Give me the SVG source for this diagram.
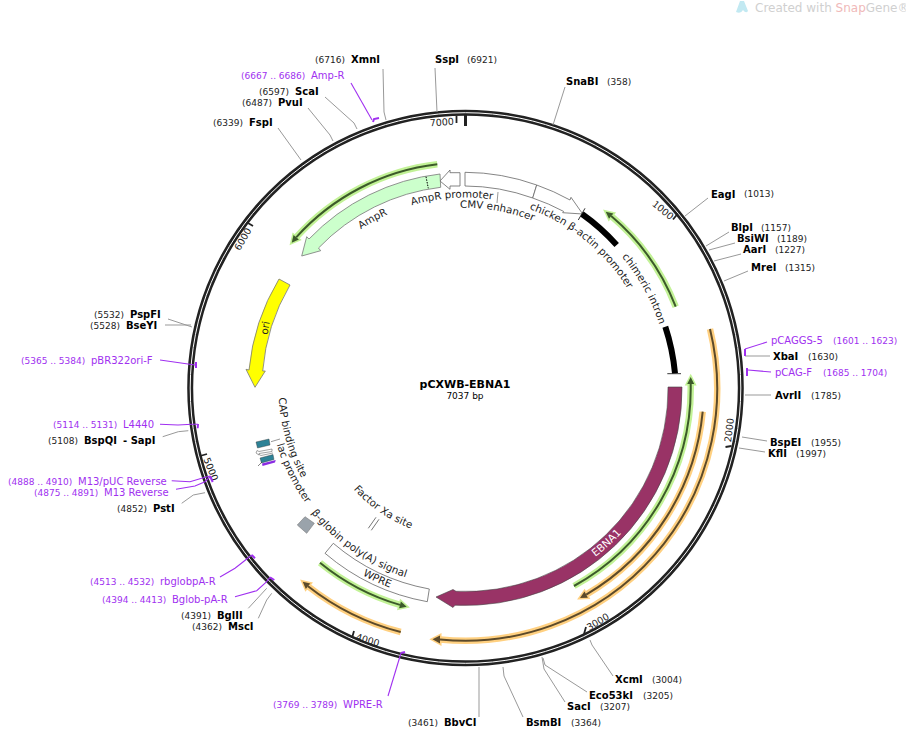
<svg xmlns="http://www.w3.org/2000/svg" width="906" height="729" viewBox="0 0 906 729">
<style>
text{font-family:"DejaVu Sans",sans-serif;fill:#000}
.e{font-size:10px;font-weight:bold}
.n{font-size:9px;fill:#222}
.p{font-size:10px;fill:#a030f0}
.q{font-size:9px;fill:#a030f0}
.a{font-size:10.3px;fill:#222}
.t{font-size:9.5px;fill:#222}
.l{fill:none;stroke:#999;stroke-width:1}
.pl{fill:none;stroke:#a030f0;stroke-width:1.1}
.pk{fill:none;stroke:#a030f0;stroke-width:2}
.ho{fill:none;stroke:#ffd080;stroke-width:6.5}
.hg{fill:none;stroke:#c2f296;stroke-width:6.5}
.dor{fill:none;stroke:#5c4a2a;stroke-width:2}
.dgr{fill:none;stroke:#3c5a2a;stroke-width:2}
.ao{fill:#5c4a2a;stroke:#ffd080;stroke-width:3;paint-order:stroke}
.ag{fill:#3c5a2a;stroke:#c2f296;stroke-width:3;paint-order:stroke}
.o{fill:#fff;stroke:#666;stroke-width:.8}
.k{stroke:#222;stroke-width:1.8;fill:none}
</style>
<defs>
<path id="pAmpP" d="M411.7,205.3 A190.5,190.5 0 0 1 530.7,209"/>
<path id="pCMV" d="M460,208 A180,180 0 0 1 581.2,250.1"/>
<path id="pChick" d="M529.2,209 A190,190 0 0 1 652.6,355"/>
<path id="pChim" d="M621.8,256.9 A204,204 0 0 1 668.7,370.2"/>
<path id="pAmp" d="M360.9,229.4 A190,190 0 0 1 432.5,200.9"/>
<path id="pCap" d="M278.8,397.8 A187,187 0 0 0 372,550"/>
<path id="pLac" d="M276.8,444.6 A197,197 0 0 0 398.1,573.1"/>
<path id="pBg" d="M311.2,512.9 A198.5,198.5 0 0 0 500,583.5"/>
<path id="pWp" d="M362.6,575.1 A213.5,213.5 0 0 0 502.6,598.3"/>
<path id="pFx" d="M353.5,489.2 A151,151 0 0 0 517.1,529.9"/>
<path id="pEb" d="M595.2,557 A213,213 0 0 0 665.7,460.8"/>
</defs>
<g id="watermark">
<path d="M736,12 L740,1 L744,1 L748,11 Q746,14 743,10 Q741,14 736,12Z" fill="#c2e9f2"/>
<text x="755" y="12" style="font-size:12px;fill:#d0d0d0">Created with <tspan style="fill:#f0b9b9">Snap</tspan>Gene®</text>
</g>
<g id="backbone">
<circle cx="465.5" cy="388" r="275.3" fill="none" stroke="#222" stroke-width="6"/>
<circle cx="465.5" cy="388" r="275.3" fill="none" stroke="#fff" stroke-width="1"/>
</g>
<g id="ticks">
<path d="M465.5,115V126" stroke="#222" stroke-width="3"/>
<path class="k" d="M456.5,116V123"/>
<path class="k" d="M677.5,214L673,219.5"/>
<path class="k" d="M731.5,446L725.5,447"/>
<path class="k" d="M586,627L584,634"/>
<path class="k" d="M354,631L352,638"/>
<path class="k" d="M200,456L207,454"/>
<path class="k" d="M253,226L248,223"/>
<text class="t" text-anchor="middle" transform="translate(442,125.5) rotate(-4)">7000</text>
<text class="t" text-anchor="middle" transform="translate(660.8,212.7) rotate(40)">1000</text>
<text class="t" text-anchor="middle" transform="translate(732.5,430.4) rotate(-83)">2000</text>
<text class="t" text-anchor="middle" transform="translate(599.5,624.7) rotate(-31)">3000</text>
<text class="t" text-anchor="middle" transform="translate(366.7,643.3) rotate(17)">4000</text>
<text class="t" text-anchor="middle" transform="translate(207.8,470.5) rotate(68)">5000</text>
<text class="t" text-anchor="middle" transform="translate(245.7,240.7) rotate(-60)">6000</text>
</g>
<g id="connectors">
<path class="l" d="M383,69L384,112L386,120"/>
<path class="l" d="M435,68L437,112"/>
<path class="l" d="M565,87L553,125"/>
<path class="l" d="M708,198L685,216"/>
<path class="l" d="M729,232L706,246"/>
<path class="l" d="M735,243L709,250"/>
<path class="l" d="M741,254L714,261"/>
<path class="l" d="M748,271L724,281"/>
<path class="l" d="M770,356H745"/>
<path class="l" d="M771,395H745"/>
<path class="l" d="M767,441L742,437"/>
<path class="l" d="M765,452L739,448"/>
<path class="l" d="M613,676L592,645L590,640"/>
<path class="l" d="M587,692L545,665L543,658"/>
<path class="l" d="M565,702L544,669L542,657"/>
<path class="l" d="M523,717L504,676L503,667"/>
<path class="l" d="M479,717V667"/>
<path class="l" d="M258.3,618.3L266.7,600L271.7,593.3"/>
<path class="l" d="M248.3,608.3L266.7,588.3"/>
<path class="l" d="M181.7,503.3L193.3,495L205,492.7"/>
<path class="l" d="M162.7,436.7L178.3,431.7L188.3,430.7"/>
<path class="l" d="M165,325H191"/>
<path class="l" d="M168,319L192,327"/>
<path class="l" d="M278,128L301,160"/>
<path class="l" d="M308,108L330,135L333,141"/>
<path class="l" d="M325,97L354,123L357,129"/>
<path class="l" d="M498,192L497,203"/>
<path class="pl" d="M351,83L372,120"/><path class="pk" d="M373,122L374,119L379,118"/>
<path class="pl" d="M767,342L745,349"/><path class="pk" d="M745,349V356"/>
<path class="pl" d="M771,372L748,370"/><path class="pk" d="M748,369H747V376"/>
<path class="pl" d="M160,360L195,365"/><path class="pk" d="M196,362V368"/>
<path class="pl" d="M160,424.3L178,425L191.7,424.3L198,424.3"/><path class="pk" d="M198,424L197.7,428.3"/>
<path class="pl" d="M171.7,480.7L190,481.7L201.7,478.3L210,476"/><path class="pk" d="M210,476L212.7,482"/>
<path class="pl" d="M176,489.3L195,486L205,481.7L210,477"/>
<path class="pl" d="M220,577L235,568.3L243.3,561.7L251.7,555"/><path class="pk" d="M251.7,555L255,558.3"/>
<path class="pl" d="M235,596.7L256.7,590.7L266.7,581.7L270,577.3"/><path class="pk" d="M270,577.3L274.3,580"/>
<path class="pl" d="M388,696L401,653"/><path class="pk" d="M401,653L405,652"/>
</g>
<g id="enzymes">
<text class="n" x="315" y="63">(6716)</text><text class="e" x="351" y="63">XmnI</text>
<text class="e" x="435" y="63">SspI</text><text class="n" x="467" y="63">(6921)</text>
<text class="e" x="566" y="85">SnaBI</text><text class="n" x="607" y="85">(358)</text>
<text class="e" x="711" y="198">EagI</text><text class="n" x="744" y="197">(1013)</text>
<text class="e" x="731" y="231">BlpI</text><text class="n" x="761" y="231">(1157)</text>
<text class="e" x="737" y="242">BsiWI</text><text class="n" x="777" y="242">(1189)</text>
<text class="e" x="743" y="253">AarI</text><text class="n" x="775" y="253">(1227)</text>
<text class="e" x="751" y="271">MreI</text><text class="n" x="785" y="271">(1315)</text>
<text class="e" x="773" y="360">XbaI</text><text class="n" x="808" y="360">(1630)</text>
<text class="e" x="775" y="399">AvrII</text><text class="n" x="811" y="399">(1785)</text>
<text class="e" x="770" y="446">BspEI</text><text class="n" x="811" y="446">(1955)</text>
<text class="e" x="768" y="457">KflI</text><text class="n" x="796" y="457">(1997)</text>
<text class="e" x="615" y="683">XcmI</text><text class="n" x="652" y="683">(3004)</text>
<text class="e" x="589" y="699">Eco53kI</text><text class="n" x="643" y="699">(3205)</text>
<text class="e" x="567" y="710">SacI</text><text class="n" x="600" y="710">(3207)</text>
<text class="e" x="526" y="726">BsmBI</text><text class="n" x="571" y="726">(3364)</text>
<text class="n" x="408" y="726">(3461)</text><text class="e" x="444" y="726">BbvCI</text>
<text class="n" x="192" y="630">(4362)</text><text class="e" x="228" y="630">MscI</text>
<text class="n" x="181" y="619">(4391)</text><text class="e" x="217" y="619">BglII</text>
<text class="n" x="117" y="512">(4852)</text><text class="e" x="153" y="512">PstI</text>
<text class="n" x="48" y="444">(5108)</text><text class="e" x="84" y="444">BspQI</text><text class="e" x="123" y="444">- SapI</text>
<text class="n" x="90" y="329">(5528)</text><text class="e" x="126" y="329">BseYI</text>
<text class="n" x="94" y="318">(5532)</text><text class="e" x="130" y="318">PspFI</text>
<text class="n" x="213" y="126">(6339)</text><text class="e" x="249" y="126">FspI</text>
<text class="n" x="242" y="106">(6487)</text><text class="e" x="278" y="106">PvuI</text>
<text class="n" x="259" y="95">(6597)</text><text class="e" x="295" y="95">ScaI</text>
</g>
<g id="primers">
<text class="q" x="241" y="79">(6667 .. 6686)</text><text class="p" x="311" y="79">Amp-R</text>
<text class="p" x="771" y="344">pCAGGS-5</text><text class="q" x="833" y="344">(1601 .. 1623)</text>
<text class="p" x="775" y="376">pCAG-F</text><text class="q" x="823" y="376">(1685 .. 1704)</text>
<text class="q" x="21" y="364">(5365 .. 5384)</text><text class="p" x="91" y="364">pBR322ori-F</text>
<text class="q" x="53" y="428">(5114 .. 5131)</text><text class="p" x="123" y="428">L4440</text>
<text class="q" x="8" y="485">(4888 .. 4910)</text><text class="p" x="78" y="485">M13/pUC Reverse</text>
<text class="q" x="34" y="496">(4875 .. 4891)</text><text class="p" x="104" y="496">M13 Reverse</text>
<text class="q" x="90" y="585">(4513 .. 4532)</text><text class="p" x="160" y="585">rbglobpA-R</text>
<text class="q" x="102" y="603">(4394 .. 4413)</text><text class="p" x="172" y="603">Bglob-pA-R</text>
<text class="q" x="273" y="708">(3769 .. 3789)</text><text class="p" x="343" y="708">WPRE-R</text>
</g>
<g id="EBNA1">
<path fill="#993366" stroke="#444" stroke-width=".6" d="M682,387 A216.5,216.5 0 0 1 455,605.2 L453,607.5 L436,597 L453,589.5 L456,591.3 A202.5,202.5 0 0 0 668,387Z"/>
<text style="font-size:10.5px;fill:#fff"><textPath href="#pEb">EBNA1</textPath></text>
</g>
<g id="ampr">
<path fill="#ccffcc" stroke="#777" stroke-width=".8" d="M440,174 A215.5,215.5 0 0 0 309,239 L306.7,236.7 L301.7,256 L320.7,250.7 L318.5,248 A202,202 0 0 1 440.7,187.3Z"/>
<path d="M426,176.7L428.3,188.3" stroke="#000" stroke-width="1" stroke-dasharray="1.5 1.2"/>
<text class="a"><textPath href="#pAmp">AmpR</textPath></text>
</g>
<g id="ori">
<path fill="#ffff00" stroke="#777" stroke-width=".8" d="M279,279 L290,285 A203,203 0 0 0 262.7,371 L265.3,371 L255,387.3 L246,369.3 L249,370 A216,216 0 0 1 279,279Z"/>
<text class="a" transform="translate(267.5,335) rotate(-80)">ori</text>
</g>
<g id="promoters">
<path class="o" d="M460,172.7V186H450V189.3L440,181L450,170V172.7Z"/>
<path class="o" d="M465,172.3 A215,215 0 0 1 536.7,185 L532.7,198 A202,202 0 0 0 465,186Z"/>
<path class="o" d="M536.7,185 A215,215 0 0 1 570,200 L571,197.3 L582.7,214 L562.7,212.7 L563.6,211.4 A202,202 0 0 0 532.7,198Z"/>
<path d="M585,208.3L578.3,220" stroke="#000" stroke-width=".8"/>
<path d="M582,214 A209,209 0 0 1 616.7,245" fill="none" stroke="#000" stroke-width="6"/>
<path d="M665.3,326.7 A210,210 0 0 1 675,373.3" fill="none" stroke="#000" stroke-width="6"/>
<path d="M667.3,373.7H681" stroke="#000" stroke-width=".8"/>
<text class="a"><textPath href="#pAmpP">AmpR promoter</textPath></text>
<text class="a"><textPath href="#pCMV">CMV enhancer</textPath></text>
<text class="a"><textPath href="#pChick">chicken β-actin promoter</textPath></text>
<text class="a"><textPath href="#pChim">chimeric intron</textPath></text>
</g>
<g id="primerbars">
<path class="ho" d="M710,329 A252,252 0 0 1 440,639.5"/>
<path class="ao" d="M432.5,639.3L440,635.5V643.5Z"/>
<path class="dor" d="M710,329 A252,252 0 0 1 440,639.5"/>
<path class="ho" d="M702.7,411.7 A238.5,238.5 0 0 1 586.2,594.6"/>
<path class="ao" d="M580,598L587.9,597.7L584.5,591.5Z"/>
<path class="dor" d="M702.7,411.7 A238.5,238.5 0 0 1 586.2,594.6"/>
<path class="ho" d="M400.7,632 A252,252 0 0 1 308,586.2"/>
<path class="ao" d="M302.7,581.7L310.3,583.5L305.8,588.9Z"/>
<path class="dor" d="M400.7,632 A252,252 0 0 1 308,586.2"/>
<path class="hg" d="M690.7,384 A226,226 0 0 1 574,586"/>
<path class="ag" d="M690.7,377L694.2,384H687.2Z"/>
<path class="dgr" d="M690.7,384 A226,226 0 0 1 574,586"/>
<path class="hg" d="M320,562.7 A226.5,226.5 0 0 0 400,604.9"/>
<path class="ag" d="M406.7,606.7L400.9,601.5L399.1,608.3Z"/>
<path class="dgr" d="M320,562.7 A226.5,226.5 0 0 0 400,604.9"/>
<path class="hg" d="M675.7,306.7 A226,226 0 0 0 611.2,216.1"/>
<path class="ag" d="M605.7,211.7L613.4,213.4L609,218.8Z"/>
<path class="dgr" d="M675.7,306.7 A226,226 0 0 0 611.2,216.1"/>
<path class="hg" d="M437.3,164.3 A226,226 0 0 0 296.2,237.3"/>
<path class="ag" d="M291.7,242.7L298.9,239.5L293.5,235.1Z"/>
<path class="dgr" d="M437.3,164.3 A226,226 0 0 0 296.2,237.3"/>
</g>
<g id="misc">
<path class="o" d="M333.3,543.3 A204,204 0 0 0 429.3,589 L427.3,601.7 A217,217 0 0 1 325,553.3Z"/>
<text class="a"><textPath href="#pWp">WPRE</textPath></text>
<path d="M305,516.7L314.3,523.3L306.7,533.3L297.3,525Z" fill="#9aa3ab" stroke="#777" stroke-width=".6"/>
<path d="M368.3,528.3L376,517.3M371.3,530.3L379,519.3" stroke="#777" stroke-width="1" fill="none"/>
<path d="M256,442L269,439L270,445L257.5,448Z" fill="#2d8296" stroke="#333" stroke-width=".4"/>
<path d="M260,458L273,454.5L274,459.5L261.5,463Z" fill="#2d8296" stroke="#333" stroke-width=".4"/>
<path d="M262,463.5L275.7,460L275,462.5L262.5,466Z" fill="#8a2be2"/>
<path d="M272,449L259,451.5L257,450.5L256,453L259,455L259,453.5L272,451.5ZM273,453L261,455.5L259,454.5" fill="none" stroke="#666" stroke-width=".6"/>
<path d="M271,441.7L280,439" stroke="#999"/>
<path d="M258,466L262,462" stroke="#333" stroke-width=".6"/>
<text class="a"><textPath href="#pCap">CAP binding site</textPath></text>
<text class="a"><textPath href="#pLac">lac promoter</textPath></text>
<text class="a"><textPath href="#pBg">β-globin poly(A) signal</textPath></text>
<text class="a"><textPath href="#pFx">Factor Xa site</textPath></text>
</g>
<g id="title">
<text x="465" y="388" text-anchor="middle" style="font-size:11px;font-weight:bold">pCXWB-EBNA1</text>
<text x="465" y="399" text-anchor="middle" style="font-size:9px">7037 bp</text>
</g>
</svg>
